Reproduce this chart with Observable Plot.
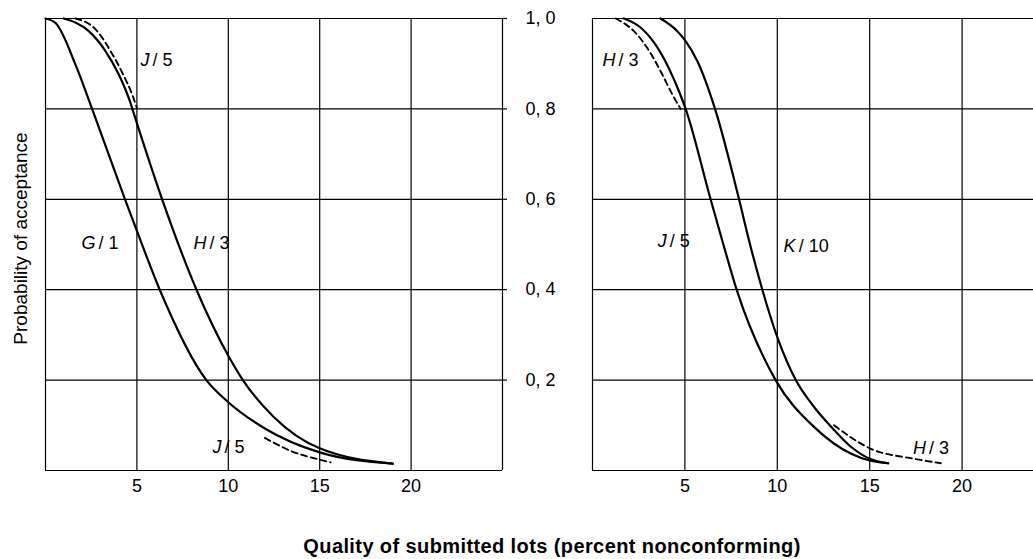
<!DOCTYPE html>
<html>
<head>
<meta charset="utf-8">
<script src="https://cdn.jsdelivr.net/npm/d3@7"></script>
<script src="https://cdn.jsdelivr.net/npm/@observablehq/plot@0.6"></script>
<style>
  html, body { margin: 0; padding: 0; background: #fff; overflow: hidden; }
  #wrap { position: relative; width: 1033px; height: 559px; overflow: hidden; background: #fff; font-family: "Liberation Sans", Arial, sans-serif; }
  #left { position: absolute; left: 0; top: 0; width: 590px; }
  #right { position: absolute; left: 562px; top: 0; width: 492px; }
  #title { position: absolute; left: 52px; width: 1000px; top: 535px; text-align: center; font-weight: bold; font-size: 20px; letter-spacing: 0.4px; color: #000; }
</style>
</head>
<body>
<div id="wrap">
  <div id="left"></div>
  <div id="right"></div>
  <div id="title">Quality of submitted lots (percent nonconforming)</div>
</div>
<script>
// ---- data (percent nonconforming, probability of acceptance) ----
const xGrid = [0, 5, 10, 15, 20, 25];
const yGrid = [0, 0.2, 0.4, 0.6, 0.8, 1.0];
const xTicks = [5, 10, 15, 20];
const xTickLabels = ["5", "10", "15", "20"];
const yTicks = [0.2, 0.4, 0.6, 0.8, 1.0];
const yTickLabels = ["0, 2", "0, 4", "0, 6", "0, 8", "1, 0"];

// left panel
const leftG1 = [[0,1],[0.55,0.99],[1.64,0.898],[2.55,0.8],[4.35,0.6],[5.0,0.53],[6.25,0.4],[8.8,0.2],[10,0.151],[12,0.093],[15,0.04],[19,0.015]];
const leftH3 = [[1.0,1],[2.37,0.972],[3.28,0.928],[4.01,0.876],[4.65,0.813],[4.83,0.79],[6.38,0.6],[8.26,0.4],[10,0.254],[10.8,0.2],[12.5,0.118],[15,0.049],[19,0.015]];
const leftJ5Top = [[1.64,1],[2.74,0.976],[3.56,0.928],[4.2,0.88],[4.74,0.832],[5.0,0.802]];
const leftJ5Bottom = [[12.0,0.072],[13.5,0.042],[15.0,0.024],[15.6,0.018]];
const leftLabelLetters = ["J", "G", "H", "J"];
const leftLabelRest = ["/ 5", "/ 1", "/ 3", "/ 5"];
const leftLabelX = [5.8, 2.84, 8.92, 9.74];
const leftLabelY = [0.907, 0.502, 0.502, 0.051];

// right panel
const rightH3Top = [[1.25,1],[2.24,0.972],[2.96,0.935],[3.68,0.884],[4.32,0.832],[4.77,0.8]];
const rightJ5 = [[1.7,1],[2.6,0.98],[3.41,0.942],[4.13,0.89],[4.68,0.839],[5.04,0.8],[6.39,0.6],[7.02,0.509],[7.8,0.4],[9.91,0.2],[12,0.096],[14,0.037],[15,0.022],[16,0.016]];
const rightK10 = [[3.68,1],[4.59,0.972],[5.04,0.95],[5.67,0.906],[6.63,0.8],[7.93,0.6],[8.47,0.509],[9.19,0.4],[10,0.295],[11,0.2],[12,0.14],[13,0.093],[14,0.052],[15,0.026],[16,0.016]];
const rightH3Bottom = [[13.07,0.1],[15.06,0.048],[17.4,0.026],[18.85,0.016]];
const rightLabelLetters = ["H", "J", "K", "H"];
const rightLabelRest = ["/ 3", "/ 5", "/ 10", "/ 3"];
const rightLabelX = [1.35, 4.12, 11.1, 18.15];
const rightLabelY = [0.907, 0.507, 0.496, 0.049];

// ---- styles ----
const FONT = "Liberation Sans, Arial, sans-serif";
const gridStyle = {stroke: "#000", strokeWidth: 1.2, strokeOpacity: 1};
const solid = {x: d => d[0], y: d => d[1], curve: "monotone-x", stroke: "#000", strokeWidth: 2.2};
const dashed = {...solid, strokeWidth: 1.9, strokeDasharray: "6,4"};

function gridMarks() {
  return [
    Plot.ruleX(xGrid, {x: d => d, y1: 0, y2: 1, ...gridStyle}),
    Plot.ruleY(yGrid, {y: d => d, x1: 0, x2: 25, ...gridStyle}),
    Plot.axisX(xTicks, {tickSize: 0, tickPadding: 9, fontSize: 18, label: null,
      tickFormat: d => xTickLabels[xTicks.indexOf(d)], fill: "#000"})
  ];
}
function labelMarks(letters, rest, xs, ys) {
  const rows = letters.map((l, i) => ({l, r: rest[i], x: xs[i], y: ys[i]}));
  return [
    Plot.text(rows, {x: "x", y: "y", text: "l", textAnchor: "end", dx: -2, fontSize: 18, fontStyle: "italic", fill: "#000", fontFamily: FONT}),
    Plot.text(rows, {x: "x", y: "y", text: "r", textAnchor: "start", dx: 1, fontSize: 18, fill: "#000", fontFamily: FONT})
  ];
}

const leftPlot = Plot.plot({
  width: 590, height: 500,
  marginLeft: 45, marginRight: 88, marginTop: 18, marginBottom: 30,
  style: {fontFamily: FONT, background: "transparent", maxWidth: "none", overflow: "visible"},
  x: {domain: [0, 25]},
  y: {domain: [0, 1]},
  marks: [
    ...gridMarks(),
    Plot.axisY(yTicks, {anchor: "right", tickSize: 4, tickPadding: 19, fontSize: 18, strokeWidth: 1.2, label: null,
      tickFormat: d => yTickLabels[yTicks.indexOf(d)], fill: "#000"}),
    Plot.line(leftG1, solid),
    Plot.line(leftH3, solid),
    Plot.line(leftJ5Top, dashed),
    Plot.line(leftJ5Bottom, dashed),
    ...labelMarks(leftLabelLetters, leftLabelRest, leftLabelX, leftLabelY),
    Plot.text(["Probability of acceptance"], {frameAnchor: "left", textAnchor: "middle", dx: -25, dy: -6, rotate: -90, fontSize: 19, fill: "#000", fontFamily: FONT})
  ]
});
document.getElementById("left").appendChild(leftPlot);

const rightPlot = Plot.plot({
  width: 492, height: 500,
  marginLeft: 30, marginRight: 0, marginTop: 18, marginBottom: 30,
  style: {fontFamily: FONT, background: "transparent", maxWidth: "none"},
  x: {domain: [0, 25]},
  y: {domain: [0, 1], axis: null},
  marks: [
    ...gridMarks(),
    Plot.line(rightH3Top, dashed),
    Plot.line(rightJ5, solid),
    Plot.line(rightK10, solid),
    Plot.line(rightH3Bottom, dashed),
    ...labelMarks(rightLabelLetters, rightLabelRest, rightLabelX, rightLabelY)
  ]
});
document.getElementById("right").appendChild(rightPlot);
</script>
</body>
</html>
